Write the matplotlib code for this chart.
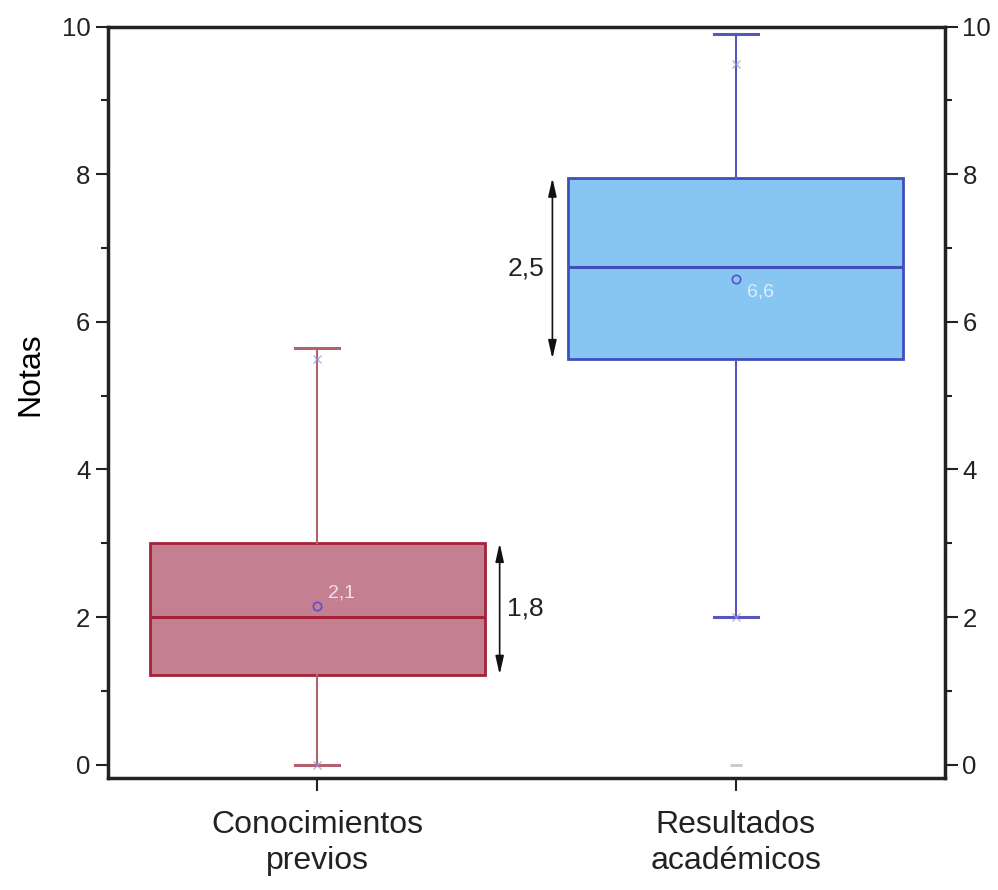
import matplotlib
matplotlib.use("Agg")
import matplotlib.pyplot as plt

plt.rcParams['font.family'] = ['Liberation Sans', 'DejaVu Sans']

# datos
categorias = ['Conocimientos\nprevios', 'Resultados\nacadémicos']
q1 = [1.22, 5.5]
mediana = [2.0, 6.75]
q3 = [3.0, 7.95]
bigote_inf = [0.0, 2.0]
bigote_sup = [5.65, 9.9]
media = [2.15, 6.58]
media_txt = ['2,1', '6,6']
pct_marcas = [[0.0, 5.5], [2.0, 9.5]]   # marcas "x"
minimos = [None, 0.0]                   # marca "-" gris
rango_txt = ['1,8', '2,5']

relleno = ['#c47f91', '#87c5f2']
borde = ['#a3223a', '#3f50bd']
bigote_col = ['#b3606f', '#5656bf']
media_txt_col = ['#f3dfe6', '#dcefff']

fig = plt.figure(figsize=(9.98, 8.9), dpi=100)
ax = fig.add_axes([0.108, 0.126, 0.839, 0.844])

pos = [1, 2]
for i in range(2):
    st = dict(med=mediana[i], q1=q1[i], q3=q3[i], whislo=bigote_inf[i],
              whishi=bigote_sup[i], mean=media[i], fliers=[])
    ax.bxp([st], positions=[pos[i]], widths=0.8, capwidths=0.105,
           showmeans=True, patch_artist=True,
           boxprops=dict(facecolor=relleno[i], edgecolor=borde[i], linewidth=2),
           medianprops=dict(color=borde[i], linewidth=2.2),
           whiskerprops=dict(color=bigote_col[i], linewidth=1.5),
           capprops=dict(color=bigote_col[i], linewidth=2.2),
           meanprops=dict(marker='o', markersize=6, markerfacecolor='none',
                          markeredgecolor='#5a4fc8', markeredgewidth=1.2))
    ax.plot([pos[i]] * 2, pct_marcas[i], ls='none', marker='x', ms=6,
            color='#9a8fd8', alpha=0.7)
    if minimos[i] is not None:
        ax.plot(pos[i], minimos[i], ls='none', marker='_', ms=8,
                color='#c8c8c8', mew=2)
    ax.text(pos[i] + 0.027, media[i] - 0.17 if i else media[i] + 0.18,
            media_txt[i], color=media_txt_col[i], fontsize=14,
            ha='left', va='center')

# flechas del rango intercuartílico
flecha_x = [1.436, 1.562]
for i in range(2):
    ax.annotate('', xy=(flecha_x[i], q3[i]), xytext=(flecha_x[i], q1[i]),
                arrowprops=dict(arrowstyle='<|-|>,head_length=1.1,head_width=0.25',
                                color='#111111', lw=1.2, shrinkA=0, shrinkB=0))
ax.text(flecha_x[0] + 0.018, (q1[0] + q3[0]) / 2, rango_txt[0],
        fontsize=19, ha='left', va='center', color='#222222')
ax.text(flecha_x[1] - 0.02, 6.72, rango_txt[1],
        fontsize=19, ha='right', va='center', color='#222222')

ax.set_xlim(0.5, 2.5)
ax.set_ylim(-0.18, 10)
ax.set_xticks(pos)
ax.set_xticklabels(categorias, fontsize=23, linespacing=1.25)
ax.set_yticks(range(0, 11, 2))
ax.set_yticks(range(1, 10, 2), minor=True)
ax.set_ylabel('Notas', fontsize=23)
ax.yaxis.set_label_coords(-0.074, 0.537)

ax.tick_params(axis='y', which='both', left=True, right=True,
               labelleft=True, labelright=True, direction='out',
               labelsize=18.5, width=1.5, colors='#222222')
ax.tick_params(axis='y', which='major', length=9)
ax.tick_params(axis='y', which='minor', length=5)
ax.tick_params(axis='x', which='major', length=9, width=1.5, pad=14,
               colors='#222222')
for s in ax.spines.values():
    s.set_linewidth(2.5)
    s.set_color('#222222')

fig.savefig('out.png', dpi=100)
